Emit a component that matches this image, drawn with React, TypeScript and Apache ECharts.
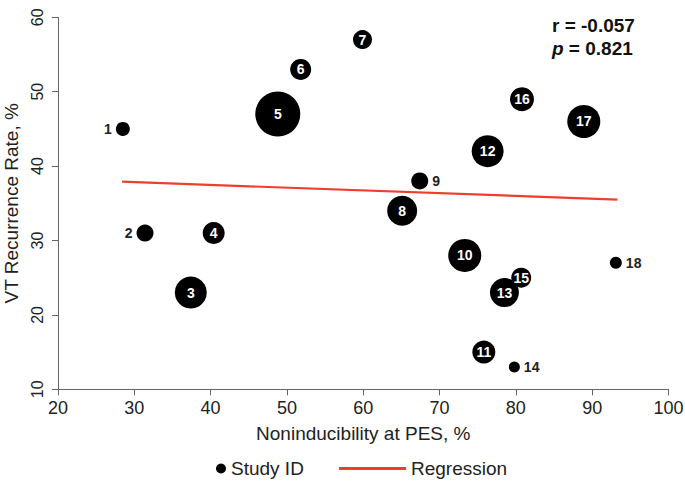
import React, { useEffect, useRef } from "react";
import * as echarts from "echarts";

const studyIds = [1, 2, 3, 4, 5, 6, 7, 8, 9, 10, 11, 12, 13, 14, 15, 16, 17, 18];
const nonInducibility = [28.5, 31.4, 37.4, 40.4, 48.8, 51.8, 59.9, 65.1, 67.4, 73.3, 75.8, 76.3, 78.5, 79.8, 80.7, 80.8, 88.9, 93.1];
const vtRecurrence = [45, 31, 23, 31, 47, 53, 57, 34, 38, 28, 15, 42, 23, 13, 25, 49, 46, 27];
const studyWeight = [14, 17, 32, 22, 45, 21, 19, 30, 17, 33, 23, 32, 29, 11, 20, 24, 33, 12];
const regressionX = [28.4, 93.3];
const regressionY = [37.9, 35.5];
const xTicks = [20, 100, 10];
const yTicks = [10, 60, 10];
const statR = "r = -0.057";
const statP = "0.821";

const labelLeft = [1, 2];
const labelRight = [9, 14, 18];

const FONT = "'Liberation Sans', Arial, Helvetica, sans-serif";
const TEXT = "#222";
const AXIS = "#666";
const RED = "#ee3f2c";

export default function App() {
  const ref = useRef<HTMLDivElement>(null);
  useEffect(() => {
    if (!ref.current) return;
    const chart = echarts.init(ref.current, null, { renderer: "svg" });
    const scatterData = studyIds.map((id, i) => {
      let label: any = { show: true, position: "inside", color: "#fff" };
      if (labelLeft.includes(id)) label = { show: true, position: "left", distance: 4, color: TEXT };
      if (labelRight.includes(id)) label = { show: true, position: "right", distance: 4, color: TEXT };
      return {
        value: [nonInducibility[i], vtRecurrence[i], studyWeight[i], id],
        label,
      };
    });
    const ordered = [...scatterData];
    const i13 = ordered.findIndex((d) => d.value[3] === 13);
    const item13 = ordered.splice(i13, 1)[0];
    ordered.push(item13);

    chart.setOption({
      animation: false,
      textStyle: { fontFamily: FONT },
      grid: { left: 58, right: 16.5, top: 17.3, bottom: 93.7, containLabel: false, outerBoundsMode: "none" },
      xAxis: {
        type: "value",
        min: xTicks[0],
        max: xTicks[1],
        interval: xTicks[2],
        name: "Noninducibility at PES, %",
        nameLocation: "middle",
        nameGap: 35,
        nameTextStyle: { fontSize: 19, color: TEXT, fontFamily: FONT },
        axisLine: { show: true, lineStyle: { color: AXIS, width: 1 } },
        axisTick: { show: true, length: 6, inside: false, lineStyle: { color: AXIS } },
        axisLabel: { fontSize: 18, color: TEXT, margin: 10, fontFamily: FONT },
        splitLine: { show: false },
      },
      yAxis: {
        type: "value",
        min: yTicks[0],
        max: yTicks[1],
        interval: yTicks[2],
        name: "VT Recurrence Rate, %",
        nameLocation: "middle",
        nameGap: 33,
        nameRotate: 90,
        nameTextStyle: { fontSize: 19, color: TEXT, fontFamily: FONT },
        axisLine: { show: true, lineStyle: { color: AXIS, width: 1 } },
        axisTick: { show: true, length: 6, inside: false, lineStyle: { color: AXIS } },
        axisLabel: { fontSize: 16, color: TEXT, rotate: 90, margin: 13, fontFamily: FONT },
        splitLine: { show: false },
      },
      legend: [
        {
          data: [{ name: "Study ID", icon: "circle" }],
          left: 211,
          top: 454,
          itemWidth: 10,
          itemHeight: 10,
          itemGap: 10,
          textStyle: { fontSize: 19, color: TEXT, fontFamily: FONT },
          selectedMode: false,
        },
        {
          data: [{ name: "Regression", icon: "rect" }],
          left: 334,
          top: 454,
          itemWidth: 67,
          itemHeight: 3,
          itemStyle: { color: RED },
          textStyle: { fontSize: 19, color: TEXT, fontFamily: FONT },
          selectedMode: false,
        },
      ],
      graphic: [
        {
          type: "text",
          left: 552,
          top: 16,
          style: {
            text: statR,
            font: `bold 19px ${FONT}`,
            fill: "#111",
          },
        },
        {
          type: "text",
          left: 552,
          top: 39,
          style: {
            text: `{i|p}{n| = ${statP}}`,
            rich: {
              i: { fontStyle: "italic", fontWeight: "bold", fontSize: 19, fontFamily: FONT, fill: "#111", color: "#111" },
              n: { fontWeight: "bold", fontSize: 19, fontFamily: FONT, fill: "#111", color: "#111" },
            },
            font: `bold 19px ${FONT}`,
            fill: "#111",
          },
        },
      ],
      series: [
        {
          name: "Regression",
          type: "line",
          data: regressionX.map((x, i) => [x, regressionY[i]]),
          symbol: "none",
          showSymbol: false,
          lineStyle: { color: RED, width: 2.2 },
          itemStyle: { color: RED },
          z: 1,
        },
        {
          name: "Study ID",
          type: "scatter",
          data: ordered,
          symbol: "circle",
          symbolSize: (v: number[]) => v[2],
          itemStyle: { color: "#000", opacity: 1 },
          label: {
            show: true,
            formatter: (p: any) => String(p.value[3]),
            fontSize: 14,
            fontWeight: "bold",
            fontFamily: FONT,
          },
          z: 2,
        },
      ],
    });
    return () => chart.dispose();
  }, []);
  return (
    <div
      ref={ref}
      style={{ position: "fixed", left: 0, top: 0, width: 685, height: 483, background: "#fff" }}
    />
  );
}
